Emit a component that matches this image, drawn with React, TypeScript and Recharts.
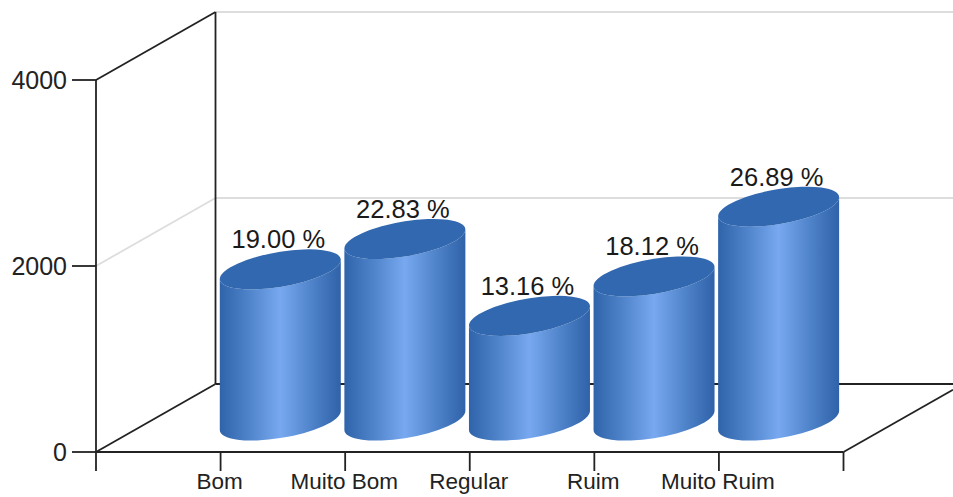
import React from "react";
import { BarChart, Bar, XAxis, YAxis, LabelList, Customized } from "recharts";

// blank first and last categories give the two outer ticks of the floor
const categories = ["", "Bom", "Muito Bom", "Regular", "Ruim", "Muito Ruim", " "];
const counts = [null, 1625, 1952, 1125, 1549, 2299, null];
const percents = [null, "19.00 %", "22.83 %", "13.16 %", "18.12 %", "26.89 %", null];
const yTicks = [0, 2000, 4000];

const chartData = categories.map((name, i) => ({
    name,
    count: counts[i],
    percent: percents[i],
}));

const WIDTH = 953;
const HEIGHT = 497;
const LEFT = 96;
const RIGHT = 843.5;
const TOP = 80;
const BOTTOM = 452;
// offset of the back wall from the front plane
const DEPTH_X = 119.5;
const DEPTH_Y = 68;
const AXIS_COLOR = "#222";
const LINE_WIDTH = 1.8;
const FONT = "'Liberation Sans', Arial, sans-serif";

// cylinder sits half way into the floor
const BAR_SHIFT_X = 60;
const BAR_SHIFT_Y = 31.5;
const EDGE_X = 60.5;
const EDGE_Y = 9.5;
const ELLIPSE = "61.3 17.4 -9.7";

const Frame = () => {
    const mid = (TOP + BOTTOM) / 2;
    const backX = LEFT + DEPTH_X;
    const gray = "#dddddd";
    return (
        <g>
            <defs>
                <linearGradient id="cylinderSide" x1="0" y1="0" x2="1" y2="0">
                    <stop offset="0%" stopColor="#2f64ab" />
                    <stop offset="25%" stopColor="#5084cb" />
                    <stop offset="50%" stopColor="#78a9f0" />
                    <stop offset="75%" stopColor="#5084cb" />
                    <stop offset="100%" stopColor="#2f62a8" />
                </linearGradient>
            </defs>
            <g stroke={gray} strokeWidth={LINE_WIDTH}>
                <line x1={backX} y1={TOP - DEPTH_Y} x2={WIDTH} y2={TOP - DEPTH_Y} />
                <line x1={backX} y1={mid - DEPTH_Y} x2={WIDTH} y2={mid - DEPTH_Y} />
                <line x1={LEFT} y1={mid} x2={backX} y2={mid - DEPTH_Y} />
            </g>
            <g stroke={AXIS_COLOR} strokeWidth={LINE_WIDTH}>
                <line x1={backX} y1={TOP - DEPTH_Y} x2={backX} y2={BOTTOM - DEPTH_Y} />
                <line x1={LEFT} y1={TOP} x2={backX} y2={TOP - DEPTH_Y} />
                <line x1={LEFT} y1={BOTTOM} x2={backX} y2={BOTTOM - DEPTH_Y} />
                <line x1={backX} y1={BOTTOM - DEPTH_Y} x2={WIDTH} y2={BOTTOM - DEPTH_Y} />
                <line
                    x1={RIGHT}
                    y1={BOTTOM}
                    x2={WIDTH}
                    y2={BOTTOM - ((WIDTH - RIGHT) * DEPTH_Y) / DEPTH_X}
                />
            </g>
        </g>
    );
};

const Cylinder = (props: any) => {
    const { x, y, width, height, value } = props;
    if (value == null) return null;
    const cx = x + width / 2 + BAR_SHIFT_X;
    const top = y - BAR_SHIFT_Y;
    const base = y + height - BAR_SHIFT_Y;
    const side = [
        `M ${cx - EDGE_X} ${top + EDGE_Y}`,
        `L ${cx - EDGE_X} ${base + EDGE_Y}`,
        `A ${ELLIPSE} 0 0 ${cx + EDGE_X} ${base - EDGE_Y}`,
        `L ${cx + EDGE_X} ${top - EDGE_Y}`,
        `A ${ELLIPSE} 0 1 ${cx - EDGE_X} ${top + EDGE_Y}`,
        "Z",
    ].join(" ");
    const cap = [
        `M ${cx - EDGE_X} ${top + EDGE_Y}`,
        `A ${ELLIPSE} 0 1 ${cx + EDGE_X} ${top - EDGE_Y}`,
        `A ${ELLIPSE} 0 1 ${cx - EDGE_X} ${top + EDGE_Y}`,
        "Z",
    ].join(" ");
    return (
        <g>
            <path d={side} fill="url(#cylinderSide)" />
            <path d={cap} fill="#3168b0" />
        </g>
    );
};

const PercentLabel = (props: any) => {
    const { x, y, width, value } = props;
    if (value == null) return null;
    return (
        <text
            x={x + width / 2 + BAR_SHIFT_X - 2}
            y={y - BAR_SHIFT_Y - 21}
            textAnchor="middle"
            fontFamily={FONT}
            fontSize={25.5}
            fill="#1a1a1a"
        >
            {value}
        </text>
    );
};

const App = () => {
    return (
        <div style={{ position: "absolute", left: 0, top: 0, width: WIDTH, height: HEIGHT, background: "#fff" }}>
            <BarChart
                width={WIDTH}
                height={HEIGHT}
                data={chartData}
                barSize={120}
                margin={{ top: TOP, right: WIDTH - RIGHT, bottom: 0, left: 0 }}
            >
                <Customized component={Frame} />
                <XAxis
                    dataKey="name"
                    scale="point"
                    interval={0}
                    height={HEIGHT - BOTTOM}
                    tickSize={19}
                    tickMargin={2}
                    stroke={AXIS_COLOR}
                    strokeWidth={LINE_WIDTH}
                    tick={{ fontSize: 22.5, fontFamily: FONT, fill: "#222", dx: -1 }}
                />
                <YAxis
                    width={LEFT}
                    domain={[0, 4000]}
                    ticks={yTicks}
                    tickSize={24}
                    tickMargin={5}
                    stroke={AXIS_COLOR}
                    strokeWidth={LINE_WIDTH}
                    tick={{ fontSize: 25, fontFamily: FONT, fill: "#222" }}
                />
                <Bar dataKey="count" shape={Cylinder} isAnimationActive={false}>
                    <LabelList dataKey="percent" content={PercentLabel} />
                </Bar>
            </BarChart>
        </div>
    );
};

export default App;
